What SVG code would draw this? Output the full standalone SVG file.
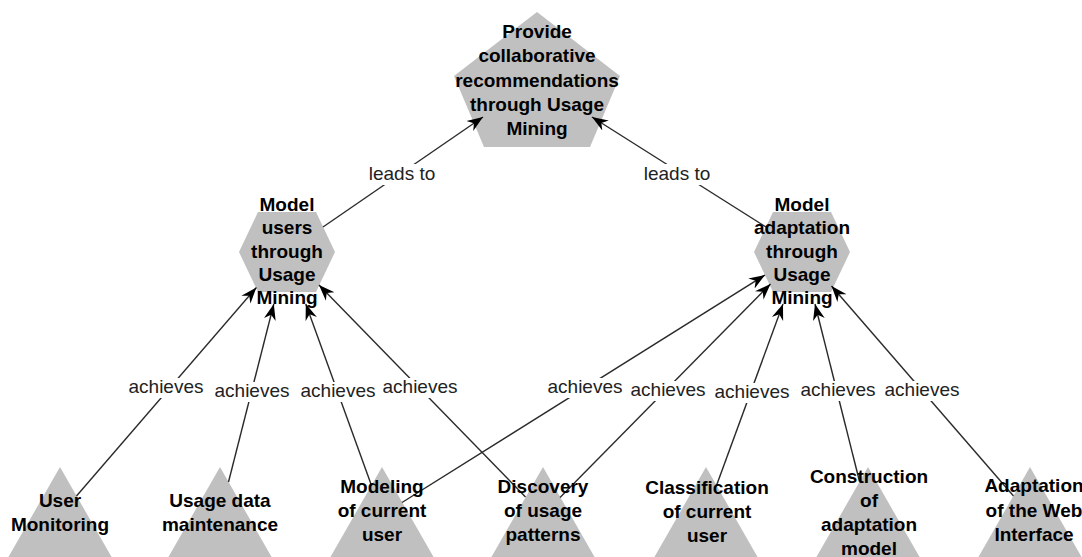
<svg xmlns="http://www.w3.org/2000/svg" width="1082" height="557" viewBox="0 0 1082 557">
<style>
.shape{fill:#c0c0c0;stroke:none}
.nt{font-family:"Liberation Sans",Arial,sans-serif;font-weight:bold;font-size:19px;fill:#000;text-anchor:middle}
.el{font-family:"Liberation Sans",Arial,sans-serif;font-size:19px;fill:#222;text-anchor:middle}
.lbg{fill:#fff}
.edge{stroke:#2a2a2a;stroke-width:1.4;fill:none;marker-end:url(#arr)}
</style>
<defs>
<marker id="arr" viewBox="-16 -7 17 14" markerWidth="17" markerHeight="14" refX="0" refY="0" orient="auto" markerUnits="userSpaceOnUse">
<path d="M0,0 L-16,-6 L-11,0 L-16,6 Z" fill="#000"/>
</marker>
</defs>
<rect width="1082" height="557" fill="#fff"/>

<g id="n-top"><polygon class="shape" points="537,12 620,76 590,147 484,147 454,76"/></g>
<g id="n-users"><polygon class="shape" points="239,252 258,212 316,212 335,252 316,292 258,292"/></g>
<g id="n-adapt"><polygon class="shape" points="754,252 773,212 831,212 850,252 831,292 773,292"/></g>
<g id="n-monitor"><polygon class="shape" points="60,467 115,563 5,563"/></g>
<g id="n-maint"><polygon class="shape" points="220,467 275,563 165,563"/></g>
<g id="n-modeling"><polygon class="shape" points="382,467 437,563 327,563"/></g>
<g id="n-discovery"><polygon class="shape" points="543,467 598,563 488,563"/></g>
<g id="n-classif"><polygon class="shape" points="706,467 761,563 651,563"/></g>
<g id="n-constr"><polygon class="shape" points="868,467 923,563 813,563"/></g>
<g id="n-webif"><polygon class="shape" points="1030,467 1085,563 975,563"/></g>

<g id="connectors">
<line class="edge" x1="323" y1="227" x2="483" y2="117"/>
<line class="edge" x1="766" y1="227" x2="592" y2="117"/>
<line class="edge" x1="76.5" y1="496" x2="256.4" y2="287.5"/>
<line class="edge" x1="228.5" y1="482" x2="273.8" y2="304"/>
<line class="edge" x1="371.5" y1="485.5" x2="305.8" y2="304"/>
<line class="edge" x1="525.5" y1="497" x2="319" y2="285"/>
<line class="edge" x1="402" y1="502.5" x2="765" y2="275"/>
<line class="edge" x1="560" y1="497.5" x2="770.5" y2="284"/>
<line class="edge" x1="716.5" y1="485.5" x2="783" y2="304"/>
<line class="edge" x1="859.5" y1="481.5" x2="815" y2="304"/>
<line class="edge" x1="1013.5" y1="496" x2="831.5" y2="286"/>
<g id="edge-labels">
<rect class="lbg" x="364" y="164" width="77" height="21"/><text class="el" x="402" y="180">leads to</text>
<rect class="lbg" x="639" y="164" width="77" height="21"/><text class="el" x="677" y="180">leads to</text>
<rect class="lbg" x="127" y="378" width="78" height="20"/><text class="el" x="166" y="393">achieves</text>
<rect class="lbg" x="213" y="382" width="78" height="20"/><text class="el" x="252" y="397">achieves</text>
<rect class="lbg" x="299" y="382" width="78" height="20"/><text class="el" x="338" y="397">achieves</text>
<rect class="lbg" x="381" y="378" width="78" height="20"/><text class="el" x="420" y="393">achieves</text>
<rect class="lbg" x="546" y="378" width="78" height="20"/><text class="el" x="585" y="393">achieves</text>
<rect class="lbg" x="629" y="381" width="78" height="20"/><text class="el" x="668" y="396">achieves</text>
<rect class="lbg" x="713" y="383" width="78" height="20"/><text class="el" x="752" y="398">achieves</text>
<rect class="lbg" x="799" y="381" width="78" height="20"/><text class="el" x="838" y="396">achieves</text>
<rect class="lbg" x="883" y="381" width="78" height="20"/><text class="el" x="922" y="396">achieves</text>
</g>
</g>

<g id="t-top"><text class="nt" x="537" y="38">Provide</text><text class="nt" x="537" y="62">collaborative</text><text class="nt" x="537" y="86.5">recommendations</text><text class="nt" x="537" y="111">through Usage</text><text class="nt" x="537" y="135">Mining</text></g>
<g id="t-users"><text class="nt" x="287" y="211">Model</text><text class="nt" x="287" y="234">users</text><text class="nt" x="287" y="257.5">through</text><text class="nt" x="287" y="281">Usage</text><text class="nt" x="287" y="304">Mining</text></g>
<g id="t-adapt"><text class="nt" x="802" y="211">Model</text><text class="nt" x="802" y="234">adaptation</text><text class="nt" x="802" y="257.5">through</text><text class="nt" x="802" y="281">Usage</text><text class="nt" x="802" y="304">Mining</text></g>
<g id="t-monitor"><text class="nt" x="60" y="507">User</text><text class="nt" x="60" y="531">Monitoring</text></g>
<g id="t-maint"><text class="nt" x="220" y="507">Usage data</text><text class="nt" x="220" y="531">maintenance</text></g>
<g id="t-modeling"><text class="nt" x="382" y="493">Modeling</text><text class="nt" x="382" y="517">of current</text><text class="nt" x="382" y="541">user</text></g>
<g id="t-discovery"><text class="nt" x="543" y="493">Discovery</text><text class="nt" x="543" y="517">of usage</text><text class="nt" x="543" y="541">patterns</text></g>
<g id="t-classif"><text class="nt" x="707" y="494">Classification</text><text class="nt" x="707" y="518">of current</text><text class="nt" x="707" y="542">user</text></g>
<g id="t-constr"><text class="nt" x="869" y="483">Construction</text><text class="nt" x="869" y="507">of</text><text class="nt" x="869" y="531">adaptation</text><text class="nt" x="869" y="555">model</text></g>
<g id="t-webif"><text class="nt" x="1034" y="492">Adaptation</text><text class="nt" x="1034" y="517">of the Web</text><text class="nt" x="1034" y="541">Interface</text></g>
</svg>
